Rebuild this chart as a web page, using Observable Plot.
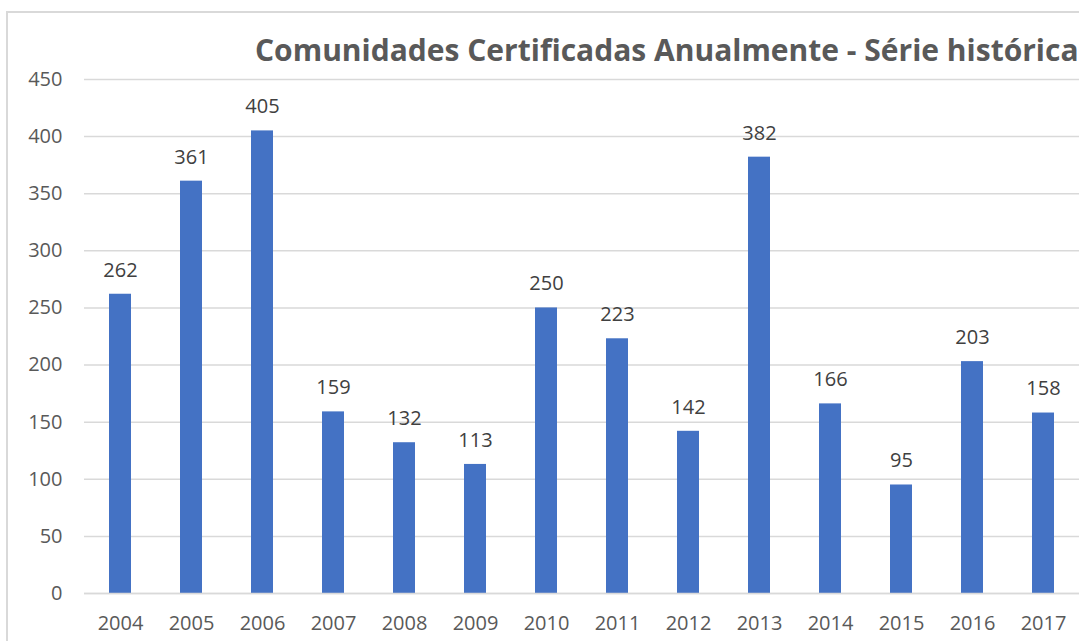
<!DOCTYPE html>
<html>
<head>
<meta charset="utf-8">
<script src="https://cdn.jsdelivr.net/npm/d3@7"></script>
<script src="https://cdn.jsdelivr.net/npm/@observablehq/plot@0.6"></script>
<style>
  html, body { margin: 0; padding: 0; background: #fff; overflow: hidden; }
  #wrap { position: relative; width: 1079px; height: 641px; }
  #frame { position: absolute; left: 6px; top: 11px; width: 1100px; height: 700px; border: 2px solid #d9d9d9; box-sizing: border-box; pointer-events: none; }
  #title { position: absolute; left: 255px; top: 35px; font-family: "Open Sans", sans-serif; font-weight: 700; font-size: 30px; line-height: 1; color: #595959; white-space: nowrap; }
  #chart { position: absolute; left: 0; top: 0; }
</style>
</head>
<body>
<div id="wrap">
  <div id="chart"></div>
  <div id="frame"></div>
  <div id="title">Comunidades Certificadas Anualmente - Série histórica</div>
</div>
<script>
const years = ["2004","2005","2006","2007","2008","2009","2010","2011","2012","2013","2014","2015","2016","2017"];
const values = [262, 361, 405, 159, 132, 113, 250, 223, 142, 382, 166, 95, 203, 158];
const yTicks = [0, 50, 100, 150, 200, 250, 300, 350, 400, 450];

const data = years.map((y, i) => ({year: y, value: values[i]}));

const chart = Plot.plot({
  width: 1079,
  height: 641,
  marginLeft: 84,
  marginRight: 0,
  marginTop: 79,
  marginBottom: 48,
  style: {fontFamily: "Open Sans, sans-serif", fontSize: "20px", color: "#595959", background: "transparent"},
  x: {domain: years, paddingInner: 0.69, paddingOuter: 0.345, label: null},
  y: {domain: [0, 450], label: null},
  marks: [
    Plot.gridY(yTicks, {stroke: "#d9d9d9", strokeOpacity: 1, strokeWidth: 1.5}),
    Plot.barY(data, {x: "year", y: "value", fill: "#4472C4"}),
    Plot.ruleY([0], {stroke: "#d9d9d9", strokeWidth: 1.5}),
    Plot.text(data, {x: "year", y: "value", text: d => String(d.value), dy: -24, fill: "#404040", fontSize: 20}),
    Plot.axisX({tickSize: 0, tickPadding: 22, fill: "#595959", fontSize: 20}),
    Plot.axisY(yTicks, {tickSize: 0, tickPadding: 22, fill: "#595959", fontSize: 20})
  ]
});
document.getElementById("chart").appendChild(chart);
</script>
</body>
</html>
